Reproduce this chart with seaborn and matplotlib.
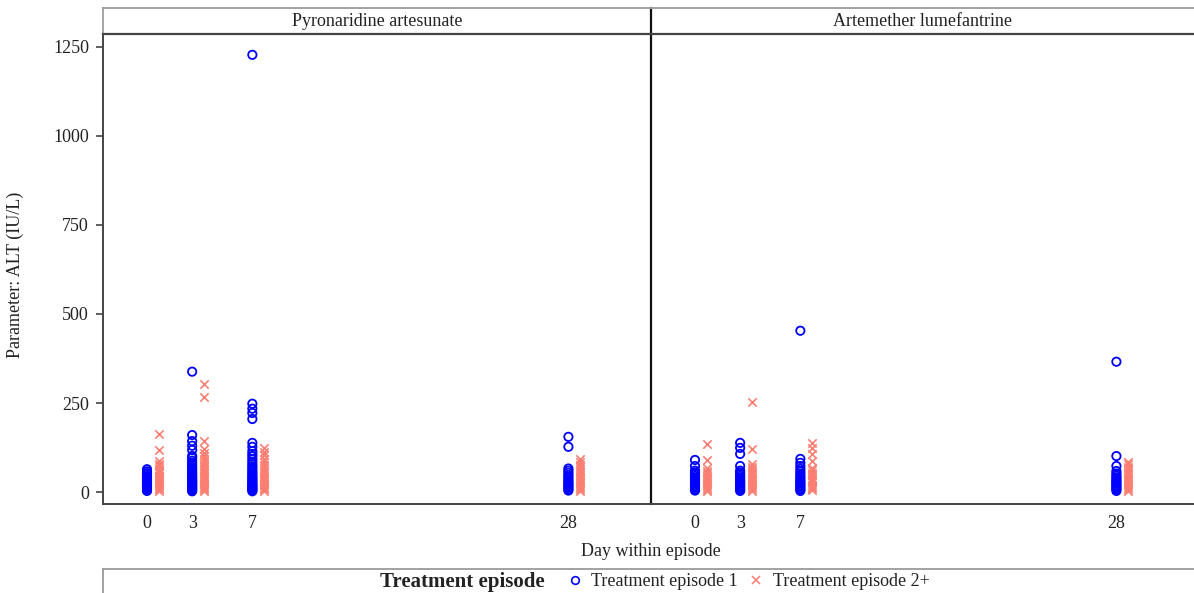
import pandas as pd
import matplotlib
matplotlib.use("Agg")
import matplotlib.pyplot as plt
from matplotlib.lines import Line2D
import seaborn as sns

# ---- data (ALT values, IU/L) ----
days = [0, 3, 7, 28]
treatments = ["Pyronaridine artesunate", "Artemether lumefantrine"]
episodes = ["Treatment episode 1", "Treatment episode 2+"]

pa_d0_ep1 = [3, 6, 9, 12, 14, 17, 19, 22, 24, 27, 30, 33, 36, 40, 44, 48, 53, 58, 64]
pa_d0_ep2 = [4, 8, 12, 16, 20, 25, 30, 35, 40, 46, 52, 58, 65, 72, 80, 87, 118, 163]
pa_d3_ep1 = [2, 5, 8, 11, 14, 17, 20, 23, 26, 29, 32, 35, 38, 42, 46, 50, 55, 60, 65,
             70, 76, 82, 88, 96, 101, 118, 130, 143, 160, 338]
pa_d3_ep2 = [3, 7, 11, 15, 20, 25, 30, 35, 40, 46, 52, 58, 64, 70, 77, 84, 92, 100,
             110, 121, 143, 268, 302]
pa_d7_ep1 = [2, 5, 8, 11, 14, 17, 20, 24, 28, 32, 36, 40, 45, 50, 55, 60, 66, 72, 78,
             85, 92, 100, 107, 115, 127, 138, 205, 222, 234, 248, 1228]
pa_d7_ep2 = [4, 8, 12, 17, 22, 27, 33, 39, 45, 52, 60, 68, 76, 85, 94, 103, 112, 124]
pa_d28_ep1 = [4, 8, 12, 16, 20, 24, 28, 33, 38, 43, 48, 54, 60, 66, 127, 155]
pa_d28_ep2 = [3, 8, 13, 18, 24, 30, 36, 42, 48, 55, 62, 69, 76, 84, 93]

al_d0_ep1 = [4, 8, 12, 16, 20, 24, 28, 32, 36, 40, 45, 50, 55, 60, 73, 90]
al_d0_ep2 = [3, 7, 12, 17, 22, 27, 33, 39, 45, 52, 60, 68, 90, 135]
al_d3_ep1 = [3, 7, 11, 15, 19, 23, 27, 31, 35, 40, 45, 50, 55, 60, 73, 107, 124, 138]
al_d3_ep2 = [4, 9, 14, 19, 25, 31, 37, 43, 50, 57, 64, 71, 79, 121, 253]
al_d7_ep1 = [3, 7, 11, 15, 19, 23, 27, 31, 36, 41, 46, 52, 58, 65, 73, 82, 93, 453]
al_d7_ep2 = [5, 10, 15, 21, 27, 33, 40, 47, 54, 61, 68, 87, 107, 124, 138]
al_d28_ep1 = [3, 7, 11, 15, 19, 23, 27, 31, 36, 41, 46, 52, 59, 73, 101, 366]
al_d28_ep2 = [4, 9, 14, 19, 25, 31, 37, 43, 50, 57, 64, 71, 78, 84]

groups = [
    (treatments[0], 0, episodes[0], pa_d0_ep1), (treatments[0], 0, episodes[1], pa_d0_ep2),
    (treatments[0], 3, episodes[0], pa_d3_ep1), (treatments[0], 3, episodes[1], pa_d3_ep2),
    (treatments[0], 7, episodes[0], pa_d7_ep1), (treatments[0], 7, episodes[1], pa_d7_ep2),
    (treatments[0], 28, episodes[0], pa_d28_ep1), (treatments[0], 28, episodes[1], pa_d28_ep2),
    (treatments[1], 0, episodes[0], al_d0_ep1), (treatments[1], 0, episodes[1], al_d0_ep2),
    (treatments[1], 3, episodes[0], al_d3_ep1), (treatments[1], 3, episodes[1], al_d3_ep2),
    (treatments[1], 7, episodes[0], al_d7_ep1), (treatments[1], 7, episodes[1], al_d7_ep2),
    (treatments[1], 28, episodes[0], al_d28_ep1), (treatments[1], 28, episodes[1], al_d28_ep2),
]

rows = []
for trt, day, ep, vals in groups:
    for v in vals:
        rows.append({"Treatment": trt, "Day": day, "Episode": ep, "ALT": v})
df = pd.DataFrame(rows)
# episode 2+ drawn slightly to the right of the day position
df["x"] = df["Day"] + df["Episode"].map({episodes[0]: 0.0, episodes[1]: 0.8})

# ---- style ----
sns.set_theme(style="white")
plt.rcParams["font.family"] = ["Liberation Serif", "DejaVu Serif"]
plt.rcParams["font.size"] = 13

BLUE = "#0000ff"
RED = "#fa7f72"
DARK = "#444444"
LIGHT = "#9a9a9a"
TXT = "#222222"

W, H = 1194, 593


def box(x0, y0, x1, y1):
    return [x0 / W, 1 - y1 / H, (x1 - x0) / W, (y1 - y0) / H]


fig = plt.figure(figsize=(W / 100, H / 100), dpi=100)

panels = [(103, 651), (651, 1194)]
zero_px = [147, 695]
px_per_day = 15.05

axes = []
for i, (trt, (x0, x1)) in enumerate(zip(treatments, panels)):
    ax = fig.add_axes(box(x0, 34, x1, 504))
    ax.patch.set_alpha(0)
    sub = df[df["Treatment"] == trt]
    sns.scatterplot(data=sub[sub["Episode"] == episodes[0]], x="x", y="ALT", ax=ax,
                    marker="o", color=BLUE, facecolor="none", edgecolor=BLUE,
                    s=36, linewidth=1.3, legend=False, zorder=3)
    sns.scatterplot(data=sub[sub["Episode"] == episodes[1]], x="x", y="ALT", ax=ax,
                    marker="x", color=RED, edgecolor=RED,
                    s=36, linewidth=1.2, legend=False, zorder=2)

    ax.set_xlim((x0 - zero_px[i]) / px_per_day, (x1 - zero_px[i]) / px_per_day)
    ax.set_ylim(-33.7, 1286.5)
    ax.set_xticks(days)
    ax.set_xticklabels([str(d) for d in days])
    ax.set_yticks([0, 250, 500, 750, 1000, 1250])
    ax.tick_params(axis="x", length=0, pad=8, colors=TXT, labelsize=13)
    ax.tick_params(axis="y", length=5, width=1.2, direction="out", pad=5,
                   color=DARK, labelcolor=TXT, labelsize=13, left=(i == 0))
    if i == 1:
        ax.set_yticklabels([])
    ax.set_xlabel("")
    ax.set_ylabel("")

    for side in ["top", "right", "left", "bottom"]:
        ax.spines[side].set_visible(False)
    ax.spines["bottom"].set_visible(True)
    ax.spines["bottom"].set_color(DARK)
    ax.spines["bottom"].set_linewidth(1.4)
    if i == 0:
        ax.spines["left"].set_visible(True)
        ax.spines["left"].set_color(DARK)
        ax.spines["left"].set_linewidth(1.4)
        ax.spines["right"].set_visible(True)
        ax.spines["right"].set_color("#111111")
        ax.spines["right"].set_linewidth(1.6)

    # strip header
    hx = fig.add_axes(box(x0, 8, x1, 34))
    hx.set_xticks([])
    hx.set_yticks([])
    hx.patch.set_alpha(0)
    for side in ["top", "right", "left", "bottom"]:
        hx.spines[side].set_visible(False)
    hx.spines["top"].set_visible(True)
    hx.spines["top"].set_color(LIGHT)
    hx.spines["top"].set_linewidth(1.3)
    hx.spines["bottom"].set_visible(True)
    hx.spines["bottom"].set_color(DARK)
    hx.spines["bottom"].set_linewidth(1.6)
    if i == 0:
        hx.spines["left"].set_visible(True)
        hx.spines["left"].set_color(LIGHT)
        hx.spines["right"].set_visible(True)
        hx.spines["right"].set_color("#111111")
        hx.spines["right"].set_linewidth(1.6)
    hx.text(0.5, 0.5, trt, ha="center", va="center", fontsize=13, color=TXT,
            transform=hx.transAxes)
    axes.append(ax)

fig.text(15 / W, 1 - 275 / H, "Parameter: ALT (IU/L)", rotation=90,
         ha="center", va="center", fontsize=13, color=TXT)

fig.text(651 / W, 1 - 552 / H, "Day within episode", ha="center", va="center",
         fontsize=13, color=TXT)

# ---- legend box at the bottom ----
lx = fig.add_axes(box(103, 569, 1194, 600))
lx.set_xticks([])
lx.set_yticks([])
for side in ["right", "bottom"]:
    lx.spines[side].set_visible(False)
for side in ["top", "left"]:
    lx.spines[side].set_color(LIGHT)
    lx.spines[side].set_linewidth(1.3)
leg_y = (600 - 582) / 31
lx.text((545 - 103) / 1091, leg_y, "Treatment episode", ha="right", va="center",
        fontsize=15, fontweight="bold", color=TXT, transform=lx.transAxes)
handles = [
    Line2D([], [], ls="", marker="o", mfc="none", mec=BLUE, ms=5.5, mew=1.2),
    Line2D([], [], ls="", marker="x", color=RED, ms=6, mew=1.1),
]
lx.legend(handles, episodes, ncol=2, frameon=False, loc="center left",
          bbox_to_anchor=((568 - 103) / 1091, leg_y), fontsize=13,
          handlelength=0.8, handletextpad=0.5, columnspacing=0.6,
          borderpad=0, borderaxespad=0, labelcolor=TXT)

fig.savefig("out.png", dpi=100)
